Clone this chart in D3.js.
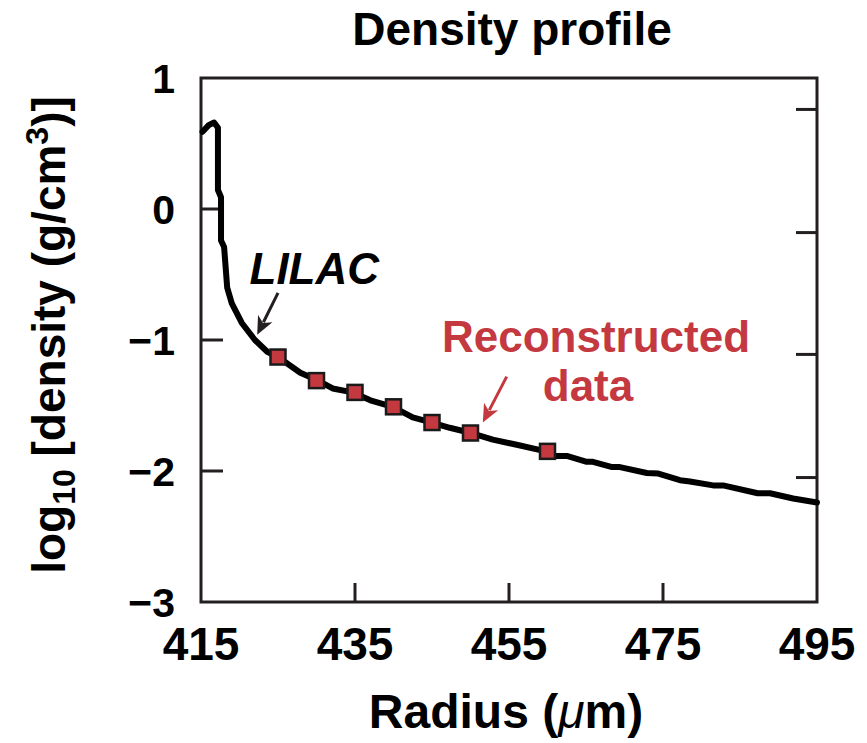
<!DOCTYPE html>
<html><head><meta charset="utf-8">
<script src="https://cdn.jsdelivr.net/npm/d3@7"></script>
<style>
html,body{margin:0;padding:0;background:#fff;}
text{font-family:"Liberation Sans",Arial,Helvetica,sans-serif;font-weight:bold;}
</style></head>
<body>
<svg id="chart" width="867" height="743"></svg>
<script>
// ---- data ----
const radius = [415.2,416.0,416.7,417.2,417.2,417.6,417.6,418.0,418.4,419.0,420.3,422.0,423.6,425.0,427.9,430.2,432.1,434.7,437.0,439.9,442.5,445.0,447.3,450.1,452.9,456.0,459.8,461.0,462.5,465.1,465.9,468.4,469.4,472.9,474.4,477.2,478.5,481.5,482.8,487.3,488.9,491.9,495.0];
const logDensity = [0.59,0.64,0.66,0.62,0.145,0.09,-0.24,-0.29,-0.60,-0.72,-0.87,-1.00,-1.09,-1.13,-1.25,-1.31,-1.37,-1.40,-1.46,-1.51,-1.59,-1.63,-1.67,-1.71,-1.76,-1.80,-1.85,-1.885,-1.885,-1.93,-1.93,-1.97,-1.97,-2.015,-2.02,-2.07,-2.08,-2.11,-2.11,-2.17,-2.17,-2.21,-2.24];
const reconRadius = [425,430,435,440,445,450,460];
const reconValue = [-1.13,-1.31,-1.40,-1.51,-1.63,-1.71,-1.85];
const xTicks = [415,435,455,475,495];
const yTicks = [1,0,-1,-2,-3];
const yInnerTicks = [0,-1,-2];
const xInnerTicks = [435,455,475];
const rightTicks = [0.76,-0.18,-1.11,-2.05];
const titleText = "Density profile";
const lilacLabel = "LILAC";
const reconLabel = ["Reconstructed","data"];

// ---- layout ----
const svg = d3.select("#chart");
const L=201, R=817, T=78, B=602;
const axisColor = "#231f20";
const red = "#c4393f";
const x = d3.scaleLinear().domain([415,495]).range([L,R]);
const y = d3.scaleLinear().domain([-3,1]).range([B,T]);

// frame
svg.append("rect").attr("x",L).attr("y",T).attr("width",R-L).attr("height",B-T)
  .attr("fill","none").attr("stroke",axisColor).attr("stroke-width",3);

// inner ticks
svg.selectAll(".ylt").data(yInnerTicks).join("line")
  .attr("x1",L).attr("x2",L+22).attr("y1",d=>y(d)).attr("y2",d=>y(d))
  .attr("stroke",axisColor).attr("stroke-width",3);
svg.selectAll(".yrt").data(rightTicks).join("line")
  .attr("x1",R-21).attr("x2",R).attr("y1",d=>y(d)).attr("y2",d=>y(d))
  .attr("stroke",axisColor).attr("stroke-width",3);
svg.selectAll(".xbt").data(xInnerTicks).join("line")
  .attr("x1",d=>x(d)).attr("x2",d=>x(d)).attr("y1",B).attr("y2",B-19)
  .attr("stroke",axisColor).attr("stroke-width",3);

// tick labels
const fmt = d => d<0 ? "\u2212"+Math.abs(d) : String(d);
svg.selectAll(".ylab").data(yTicks).join("text")
  .attr("x",L-26).attr("y",d=>y(d)).attr("dy","0.36em")
  .attr("text-anchor","end").attr("font-size",41).attr("fill","#000").text(fmt);
svg.selectAll(".xlab").data(xTicks).join("text")
  .attr("x",d=>x(d)).attr("y",660)
  .attr("text-anchor","middle").attr("font-size",46).attr("fill","#000").text(d=>d);

// title
svg.append("text").attr("x",512).attr("y",45).attr("text-anchor","middle")
  .attr("font-size",46).text(titleText);

// x axis title
const xt = svg.append("text").attr("x",506).attr("y",728).attr("text-anchor","middle").attr("font-size",48);
xt.append("tspan").text("Radius (");
xt.append("tspan").attr("font-style","italic").attr("font-weight","normal").text("\u03bc");
xt.append("tspan").text("m)");

// y axis title
const yt = svg.append("text").attr("transform","translate(65,335) rotate(-90)")
  .attr("text-anchor","middle").attr("font-size",46);
yt.append("tspan").text("log");
yt.append("tspan").attr("font-size",32).attr("dy",10).text("10");
yt.append("tspan").attr("dy",-10).text(" [density (g/cm");
yt.append("tspan").attr("font-size",32).attr("dy",-17).text("3");
yt.append("tspan").attr("dy",17).text(")]");

// curve
const line = d3.line().x(d=>x(d[0])).y(d=>y(d[1]));
svg.append("path").datum(radius.map((r,i)=>[r,logDensity[i]]))
  .attr("d",line).attr("fill","none").attr("stroke","#000")
  .attr("stroke-width",6).attr("stroke-linejoin","round").attr("stroke-linecap","round");

// markers
const ms = 15;
svg.selectAll(".mk").data(reconRadius.map((r,i)=>[r,reconValue[i]])).join("rect")
  .attr("x",d=>x(d[0])-ms/2).attr("y",d=>y(d[1])-ms/2).attr("width",ms).attr("height",ms)
  .attr("fill",red).attr("stroke","#1a1a1a").attr("stroke-width",2.5);

// arrows
function arrow(x1,y1,x2,y2,color,w){
  const ang = Math.atan2(y2-y1,x2-x1);
  const hl = 18, hw = 8;
  const bx = x2 - hl*Math.cos(ang), by = y2 - hl*Math.sin(ang);
  svg.append("line").attr("x1",x1).attr("y1",y1).attr("x2",bx+4*Math.cos(ang)).attr("y2",by+4*Math.sin(ang))
    .attr("stroke",color).attr("stroke-width",w);
  const px = -Math.sin(ang), py = Math.cos(ang);
  svg.append("path").attr("d",`M${x2},${y2}L${bx+hw*px},${by+hw*py}L${bx+5*Math.cos(ang)},${by+5*Math.sin(ang)}L${bx-hw*px},${by-hw*py}Z`)
    .attr("fill",color);
}
arrow(x(425.0),y(-0.64),x(422.3),y(-0.96),axisColor,3);
arrow(x(454.7),y(-1.28),x(451.6),y(-1.63),red,3);

// annotation labels
svg.append("text").attr("x",x(421.3)).attr("y",y(-0.57)).attr("font-size",44)
  .attr("font-style","italic").attr("fill","#000").text(lilacLabel);
svg.append("text").attr("x",596).attr("y",352).attr("text-anchor","middle").attr("font-size",44)
  .attr("fill",red).text(reconLabel[0]);
svg.append("text").attr("x",588).attr("y",401).attr("text-anchor","middle").attr("font-size",44)
  .attr("fill",red).text(reconLabel[1]);
</script>
</body></html>
